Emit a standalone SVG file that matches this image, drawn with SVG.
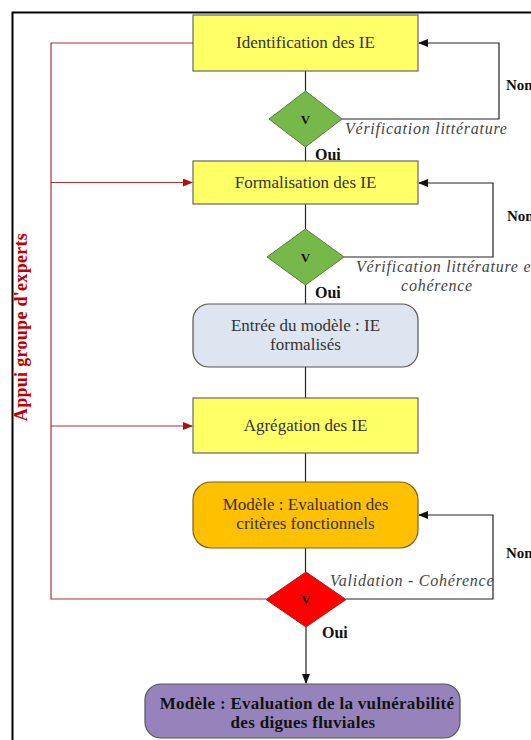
<svg xmlns="http://www.w3.org/2000/svg" width="531" height="740" viewBox="0 0 531 740">
<defs>
<style>
text{font-family:'Liberation Serif','Times New Roman','DejaVu Serif',serif}
.lbl{font-size:17px;fill:#333;text-anchor:middle}
.bold{font-weight:bold;fill:#111}
.ital{font-style:italic;font-size:16px;fill:#444;letter-spacing:0.75px}
.box{fill:#ffff66;stroke:#666;stroke-width:1.2}
.dg{fill:#77b84a;stroke:#5a7d3a;stroke-width:1}
.conn{fill:none;stroke:#222;stroke-width:1.2}
.red{fill:none;stroke:#b03030;stroke-width:1.2}
</style>
<marker id="ab" markerWidth="10" markerHeight="8" refX="9" refY="4" orient="auto" markerUnits="userSpaceOnUse">
<path d="M0,0 L10,4 L0,8 Z" fill="#111"/>
</marker>
<marker id="ar" markerWidth="10" markerHeight="8" refX="9" refY="4" orient="auto" markerUnits="userSpaceOnUse">
<path d="M0,0 L10,4 L0,8 Z" fill="#b01010"/>
</marker>
</defs>
<rect width="531" height="740" fill="#ffffff"/>
<path d="M12.5,740 L12.5,12.5 L531,12.5" fill="none" stroke="#000" stroke-width="2"/>

<g id="connectors">
<line class="conn" x1="305.5" y1="71" x2="305.5" y2="91"/>
<path class="conn" d="M342,119 H499 V43 H419" marker-end="url(#ab)"/>
<line class="conn" x1="305.5" y1="147" x2="305.5" y2="161"/>
<line class="conn" x1="305.5" y1="204" x2="305.5" y2="229"/>
<path class="conn" d="M344,257 H493 V183 H419" marker-end="url(#ab)"/>
<line class="conn" x1="305.5" y1="285" x2="305.5" y2="304"/>
<line class="conn" x1="305.5" y1="367" x2="305.5" y2="398"/>
<line class="conn" x1="305.5" y1="453" x2="305.5" y2="482"/>
<line class="conn" x1="305.5" y1="548" x2="305.5" y2="572"/>
<path class="conn" d="M346,599 H493 V515 H419" marker-end="url(#ab)"/>
<line class="conn" x1="306" y1="627" x2="306" y2="683" marker-end="url(#ab)"/>
<path class="red" d="M193,43 H51 V599 H266"/>
<line class="red" x1="51" y1="182.5" x2="192" y2="182.5" marker-end="url(#ar)"/>
<line class="red" x1="51" y1="426" x2="192" y2="426" marker-end="url(#ar)"/>
<text class="bold" font-size="18" style="fill:#c00000;letter-spacing:0.3px" text-anchor="middle" transform="translate(27,327) rotate(-90)">Appui groupe d'experts</text>
<text class="bold" font-size="15" x="506" y="90">Non</text>
<text class="bold" font-size="15" x="507" y="221">Non</text>
<text class="bold" font-size="15" x="506" y="558">Non</text>
<text class="ital" x="345" y="134">Vérification littérature</text>
<text class="ital" x="356" y="272">Vérification littérature et</text>
<text class="ital" x="437" y="291" text-anchor="middle">cohérence</text>
<text class="ital" x="330" y="586">Validation - Cohérence</text>
<text class="bold" font-size="16" x="315" y="160">Oui</text>
<text class="bold" font-size="16" x="315" y="298">Oui</text>
<text class="bold" font-size="16" x="322" y="638">Oui</text>
</g>

<g id="identification">
<rect class="box" x="193" y="15" width="225" height="56"/>
<text class="lbl" x="305.5" y="48">Identification des IE</text>
</g>
<g id="verif1">
<polygon class="dg" points="305.5,91 342,119 305.5,147 269,119"/>
<text class="bold" font-size="13" x="305.5" y="124" text-anchor="middle">V</text>
</g>
<g id="formalisation">
<rect class="box" x="193" y="161" width="225" height="43"/>
<text class="lbl" x="305.5" y="188">Formalisation des IE</text>
</g>
<g id="verif2">
<polygon class="dg" points="305.5,229 344,257 305.5,285 267,257"/>
<text class="bold" font-size="13" x="305.5" y="262" text-anchor="middle">V</text>
</g>
<g id="entree">
<rect x="193" y="304" width="225" height="63" rx="16" fill="#dde5f0" stroke="#555" stroke-width="1.2"/>
<text class="lbl" x="305.5" y="331">Entrée du modèle : IE</text>
<text class="lbl" x="305.5" y="350">formalisés</text>
</g>
<g id="agregation">
<rect class="box" x="193" y="398" width="225" height="55"/>
<text class="lbl" x="305.5" y="431">Agrégation des IE</text>
</g>
<g id="criteres">
<rect x="193" y="482" width="225" height="66" rx="18" fill="#ffc000" stroke="#7a6020" stroke-width="1.2"/>
<text class="lbl" x="305.5" y="510">Modèle : Evaluation des</text>
<text class="lbl" x="305.5" y="529">critères fonctionnels</text>
</g>
<g id="validation">
<polygon points="306,572 346,599.5 306,627 266,599.5" fill="#ff0000" stroke="#a02020" stroke-width="1"/>
<text class="bold" font-size="13" x="306" y="604" text-anchor="middle">V</text>
</g>
<g id="vulnerabilite">
<rect x="145" y="684" width="315" height="54" rx="16" fill="#9783bb" stroke="#555" stroke-width="1.2"/>
<text class="bold" font-size="17" style="letter-spacing:0.3px" x="307" y="709" text-anchor="middle">Modèle : Evaluation de la vulnérabilité</text>
<text class="bold" font-size="17" style="letter-spacing:0.3px" x="303" y="728" text-anchor="middle">des digues fluviales</text>
</g>
</svg>
